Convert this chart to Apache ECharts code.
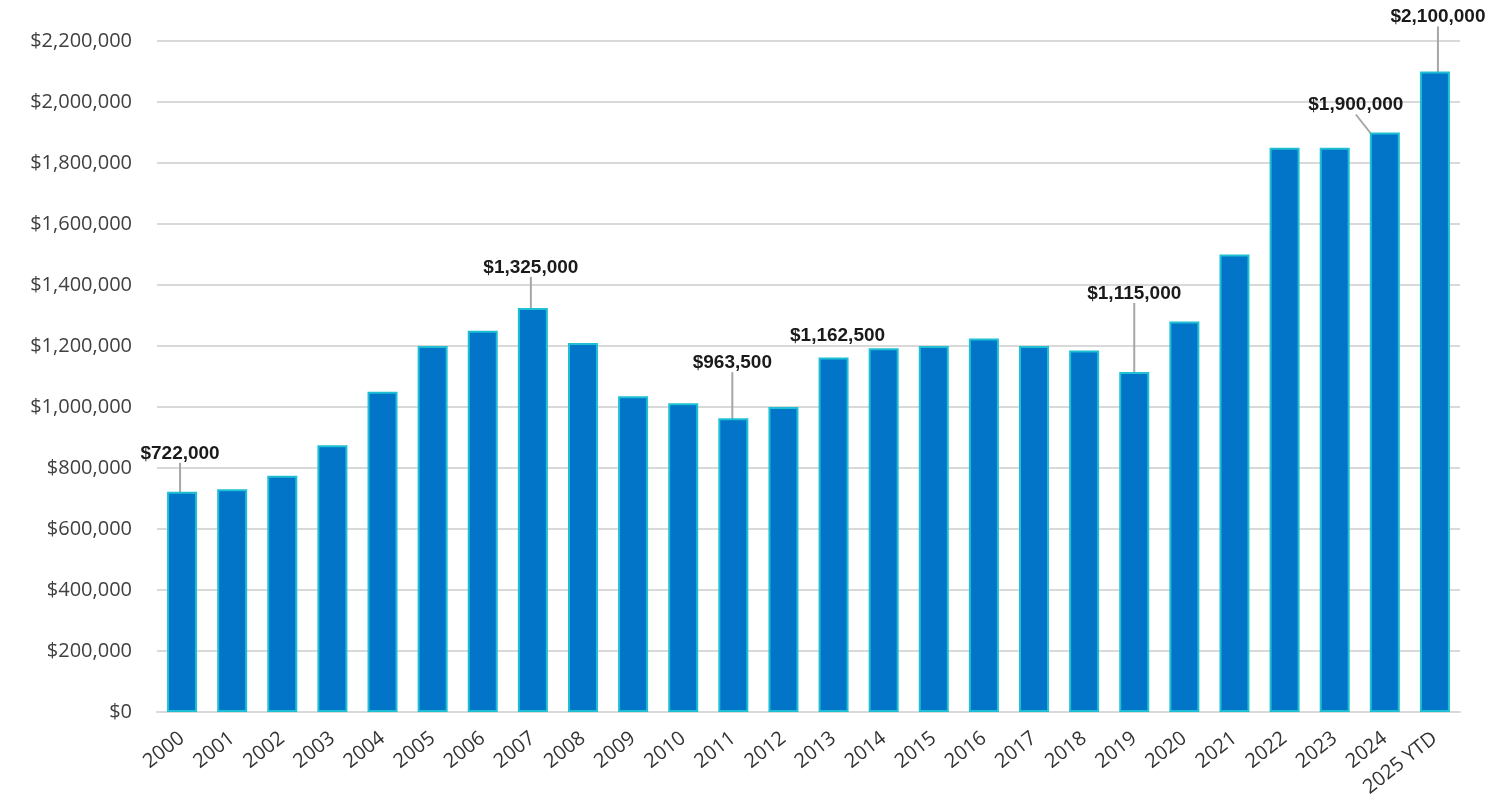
<!DOCTYPE html>
<html>
<head>
<meta charset="utf-8">
<script src="https://cdn.jsdelivr.net/npm/echarts@6/dist/echarts.min.js"></script>
<style>
html,body{margin:0;padding:0;background:#fff;}
#chart{width:1506px;height:801px;}
</style>
</head>
<body>
<div id="chart"></div>
<script>
const categories = ['2000','2001','2002','2003','2004','2005','2006','2007','2008','2009','2010','2011','2012','2013','2014','2015','2016','2017','2018','2019','2020','2021','2022','2023','2024','2025 YTD'];
const prices = [722000,730000,775000,875000,1050000,1200000,1250000,1325000,1210000,1035000,1012000,963500,1000000,1162500,1193000,1200000,1225000,1200000,1185000,1115000,1280000,1500000,1850000,1850000,1900000,2100000];
const calloutYears = ['2000','2007','2011','2013','2019','2024','2025 YTD'];
const yTicks = [0,200000,400000,600000,800000,1000000,1200000,1400000,1600000,1800000,2000000,2200000];

// label offsets (style only)
const labelOffsets = {
  '2000':[-2,-24,true], '2007':[-2,-26,true], '2011':[-1,-41,true], '2013':[4,-7,false],
  '2019':[0,-64,true], '2024':[-29,-13,true], '2025 YTD':[3,-40,true]
};

function money(v){ return '$' + v.toLocaleString('en-US'); }

const data = prices.map((v,i)=>{
  const cat = categories[i];
  const show = calloutYears.indexOf(cat) >= 0;
  const item = {value:v};
  item.label = {show:show};
  item.labelLine = {show: show && labelOffsets[cat][2]};
  return item;
});

const chart = echarts.init(document.getElementById('chart'), null, {renderer:'canvas'});
chart.setOption({
  animation:false,
  backgroundColor:'#fff',
  grid:{left:157,right:46,top:41,bottom:89,containLabel:false},
  xAxis:{
    type:'category',
    data:categories,
    axisLine:{show:true,lineStyle:{color:'#d9d9d9',width:2}},
    axisTick:{show:false},
    axisLabel:{rotate:38,fontFamily:'"Open Sans"',fontSize:20,color:'#333',margin:24,interval:0}
  },
  yAxis:{
    type:'value',
    min:0,max:2200000,interval:200000,
    axisLine:{show:false},axisTick:{show:false},
    splitLine:{lineStyle:{color:'#d9d9d9',width:2}},
    axisLabel:{fontFamily:'"Open Sans"',fontSize:20,color:'#404040',margin:25,
      formatter:function(v){return money(v);}}
  },
  series:[{
    type:'bar',
    data:data,
    barWidth:30,
    itemStyle:{color:'#0375C9',borderColor:'#1FC0D4',borderWidth:2},
    label:{
      show:false,position:'top',distance:5,
      fontFamily:'"Liberation Sans Narrow","Liberation Sans",Arial,sans-serif',
      fontWeight:'bold',fontSize:19,color:'#1a1a1a',
      formatter:function(p){return money(p.value);}
    },
    labelLine:{show:false,lineStyle:{color:'#a6a6a6',width:2}},
    labelLayout:function(p){
      const cat = categories[p.dataIndex];
      const o = labelOffsets[cat];
      if(!o) return {};
      return {dx:o[0],dy:o[1]};
    }
  }]
});
</script>
</body>
</html>
